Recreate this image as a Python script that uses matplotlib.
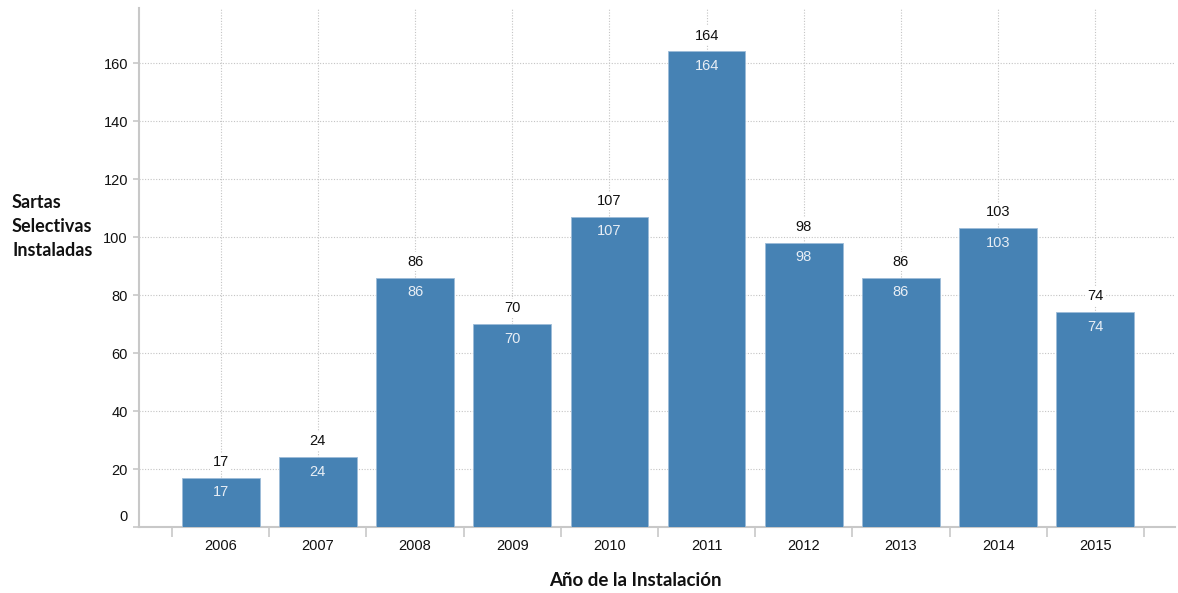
import matplotlib
matplotlib.use("Agg")
import matplotlib.pyplot as plt
import numpy as np

years = ["2006", "2007", "2008", "2009", "2010", "2011", "2012", "2013", "2014", "2015"]
values = [17, 24, 86, 70, 107, 164, 98, 86, 103, 74]
yticks = [0, 20, 40, 60, 80, 100, 120, 140, 160]

fig = plt.figure(figsize=(11.78, 5.93), dpi=100)
ax = fig.add_axes([139/1178, 66/593, (1175-139)/1178, (527-8)/593])

x = np.arange(len(years))
bar_color = "#4682B4"
ax.bar(x, values, width=0.8, color=bar_color, edgecolor="#9dbcd8", linewidth=0.6, zorder=3)

for xi, v in zip(x, values):
    ax.annotate(str(v), (xi, v), xytext=(0, 11.5), textcoords="offset points",
                ha="center", va="center", fontsize=10.5, color="#111111",
                family="Liberation Sans", zorder=4,
                bbox=dict(boxstyle="square,pad=0.15", fc="white", ec="none"))
    ax.annotate(str(v), (xi, v), xytext=(0, -10.5), textcoords="offset points",
                ha="center", va="center", fontsize=10.5, color="#e8eef5",
                family="Liberation Sans", zorder=4)

tick_len, tick_pad = 4.5, 3.5
ax.set_xlim(-0.84, 9.82)
ax.set_ylim(0, 179)
ax.set_yticks(yticks)
ax.set_yticklabels([("" if t == 0 else str(t)) for t in yticks],
                   family="Liberation Sans", fontsize=10.5, color="#111111")
# zero label sits slightly above the x axis
ax.annotate(str(yticks[0]), xy=(0, yticks[0]), xycoords=ax.get_yaxis_transform(),
            xytext=(-(tick_len + tick_pad), 7.5), textcoords="offset points",
            ha="right", va="center", fontsize=10.5, color="#111111",
            family="Liberation Sans", annotation_clip=False)

# category ticks at boundaries, labels at centers
ax.set_xticks(np.arange(-0.5, len(years)), minor=False)
ax.set_xticklabels([""] * (len(years) + 1))
ax.set_xticks(x, minor=True)
ax.set_xticklabels(years, minor=True, family="Liberation Sans", fontsize=10.5, color="#111111")
ax.tick_params(axis="x", which="major", length=7.5, width=1.2, color="#c8c8c8")
ax.tick_params(axis="x", which="minor", length=0, pad=9)
ax.tick_params(axis="y", length=tick_len, width=1.2, color="#c8c8c8", pad=tick_pad)

# grid: horizontal at y ticks, vertical at centers
for t in yticks[1:]:
    ax.axhline(t, color="#c4c4c4", linestyle=(0, (1, 1.5)), linewidth=0.8, zorder=1)
for xi in x:
    ax.axvline(xi, color="#c4c4c4", linestyle=(0, (1, 1.5)), linewidth=0.8, zorder=1)

for s in ["top", "right"]:
    ax.spines[s].set_visible(False)
for s in ["left", "bottom"]:
    ax.spines[s].set_color("#c8c8c8")
    ax.spines[s].set_linewidth(1.5)

fig.text(12/1178, 1 - 227/593, "Sartas\nSelectivas\nInstaladas", ha="left", va="center",
         fontsize=13, fontweight="bold", family="Lato", color="#111111", linespacing=1.5)
fig.text(635/1178, 1 - 580/593, "Año de la Instalación", ha="center", va="center",
         fontsize=13.5, fontweight="bold", family="Lato", color="#111111")

fig.savefig("out.png", dpi=100, facecolor="white")
